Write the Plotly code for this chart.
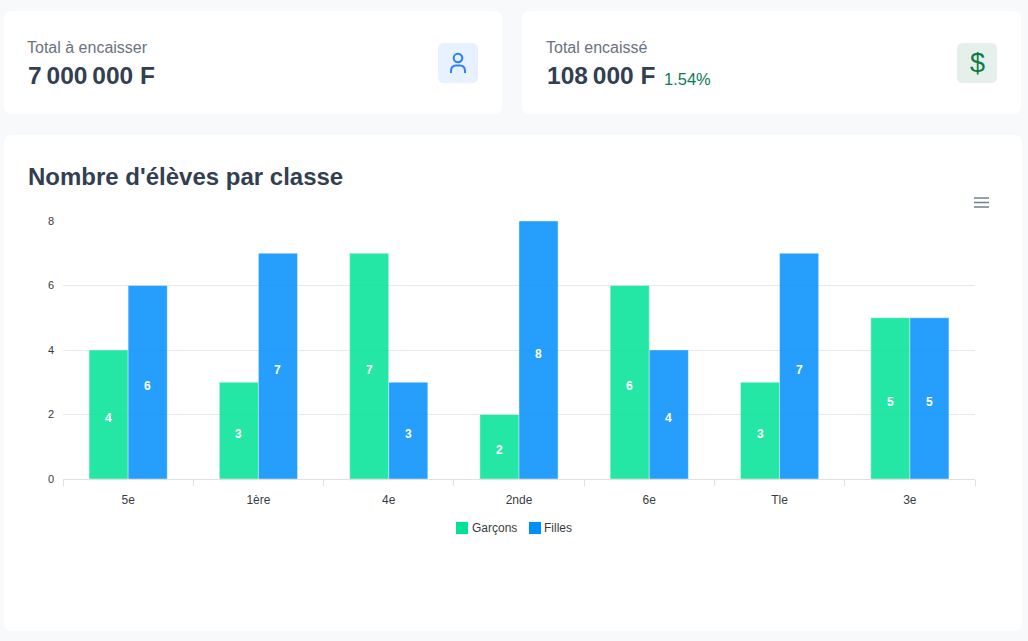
import plotly.graph_objects as go

W, H = 1028, 641
FONT = "Liberation Sans"

classes = ["5e", "1ère", "4e", "2nde", "6e", "Tle", "3e"]
garcons = [4, 3, 7, 2, 6, 3, 5]
filles = [6, 7, 3, 8, 4, 7, 5]
y_ticks = [0, 2, 4, 6, 8]


def px(x):
    return x / W


def py(y):
    return 1 - y / H


def rounded(x0, y0, x1, y1, r):
    # rounded rectangle as a path in paper coordinates
    pts = [
        f"M{px(x0 + r)},{py(y0)}", f"L{px(x1 - r)},{py(y0)}",
        f"Q{px(x1)},{py(y0)} {px(x1)},{py(y0 + r)}", f"L{px(x1)},{py(y1 - r)}",
        f"Q{px(x1)},{py(y1)} {px(x1 - r)},{py(y1)}", f"L{px(x0 + r)},{py(y1)}",
        f"Q{px(x0)},{py(y1)} {px(x0)},{py(y1 - r)}", f"L{px(x0)},{py(y0 + r)}",
        f"Q{px(x0)},{py(y0)} {px(x0 + r)},{py(y0)}", "Z",
    ]
    return " ".join(pts)


def box(x0, y0, x1, y1, r, color):
    return dict(type="path", xref="paper", yref="paper", path=rounded(x0, y0, x1, y1, r),
                fillcolor=color, line=dict(width=0), layer="below")


def label(x, y, text, size, color, weight="normal", anchor="left"):
    return dict(xref="paper", yref="paper", x=px(x), y=py(y), text=text, showarrow=False,
                xanchor=anchor, yanchor="middle", borderpad=0, borderwidth=0,
                font=dict(family=FONT, size=size, color=color, weight=weight))


def bar_label(cat, val, xshift):
    # value label centred in its bar, sitting a little under the middle
    return dict(x=cat, y=val / 2, text=str(val), showarrow=False, xshift=xshift, yshift=-3.5,
                font=dict(family=FONT, size=12, color="white", weight="bold"))


fig = go.Figure()
fig.add_trace(go.Bar(
    x=classes, y=garcons, name="Garçons",
    marker=dict(color="#00E396", opacity=0.85, line=dict(color="rgba(255,255,255,0.4)", width=1)),
))
fig.add_trace(go.Bar(
    x=classes, y=filles, name="Filles",
    marker=dict(color="#008FFB", opacity=0.85, line=dict(color="rgba(255,255,255,0.4)", width=1)),
))

shapes = [
    box(4, 11, 502, 114, 8, "white"),
    box(522, 11, 1021, 114, 8, "white"),
    box(4, 135, 1022, 631, 8, "white"),
    box(438, 43, 478, 83, 6, "#e7f1ff"),
    box(957, 43, 997, 83, 6, "#e6f0ea"),
    # user icon
    dict(type="circle", xref="paper", yref="paper", x0=px(453.7), y0=py(53.7), x1=px(462.3), y1=py(62.3),
         line=dict(color="#2b7fff", width=2)),
    dict(type="path", xref="paper", yref="paper",
         path=f"M{px(451)},{py(73)} L{px(451)},{py(71)} Q{px(451)},{py(65.5)} {px(456)},{py(65.5)} "
              f"L{px(460)},{py(65.5)} Q{px(465)},{py(65.5)} {px(465)},{py(71)} L{px(465)},{py(73)}",
         line=dict(color="#2b7fff", width=2)),
    # legend swatches
    box(456, 522, 468, 534, 0, "#00E396"),
    box(529, 522, 541, 534, 0, "#008FFB"),
]
# hamburger menu
for yy in (198, 202.5, 207):
    shapes.append(dict(type="line", xref="paper", yref="paper", x0=px(974), x1=px(989), y0=py(yy), y1=py(yy),
                       line=dict(color="#6e8192", width=1.5)))

annotations = [
    label(27, 47.5, "Total à encaisser", 16, "#6b7280"),
    label(28, 75.5, "7\u2009000\u2009000 F", 24.5, "#333f50", "bold"),
    label(546, 47.5, "Total encaissé", 16, "#6b7280"),
    label(546.5, 75.5, "108\u2009000 F", 24.5, "#333f50", "bold"),
    label(664, 79, "1.54%", 16.5, "#0d7a55"),
    label(977, 63, "$", 27, "#0d7a45", anchor="center"),
    label(28, 176, "Nombre d'élèves par classe", 24, "#333f50", "bold"),
    label(471.5, 527.5, "Garçons", 12, "#373d3f"),
    label(544, 527.5, "Filles", 12, "#373d3f"),
]
annotations += [bar_label(c, v, -19.5) for c, v in zip(classes, garcons)]
annotations += [bar_label(c, v, 19.5) for c, v in zip(classes, filles)]

fig.update_layout(
    width=W, height=H,
    margin=dict(l=0, r=0, t=0, b=0, autoexpand=False),
    paper_bgcolor="#f8f9fb",
    plot_bgcolor="rgba(0,0,0,0)",
    barmode="group", bargap=0.4, bargroupgap=0,
    shapes=shapes, annotations=annotations,
    font=dict(family=FONT, color="#373d3f"),
    showlegend=False,
)
fig.update_xaxes(
    domain=[px(63), px(975)], tickson="boundaries", ticks="outside", ticklen=6, tickcolor="#e0e0e0",
    showline=True, linecolor="#e0e0e0", showgrid=False, tickfont=dict(size=12, color="#373d3f"),
    ticklabelstandoff=10,
)
fig.update_yaxes(
    domain=[py(479), py(221)], range=[0, 8], tickvals=y_ticks, gridcolor="#e8e8e8", zeroline=False,
    ticks="", tickfont=dict(size=11, color="#373d3f"), ticklabelstandoff=8,
)
fig.write_html("out.html", config=dict(displayModeBar=False),
               post_script="document.body.style.margin='0';document.body.style.overflow='hidden';")
